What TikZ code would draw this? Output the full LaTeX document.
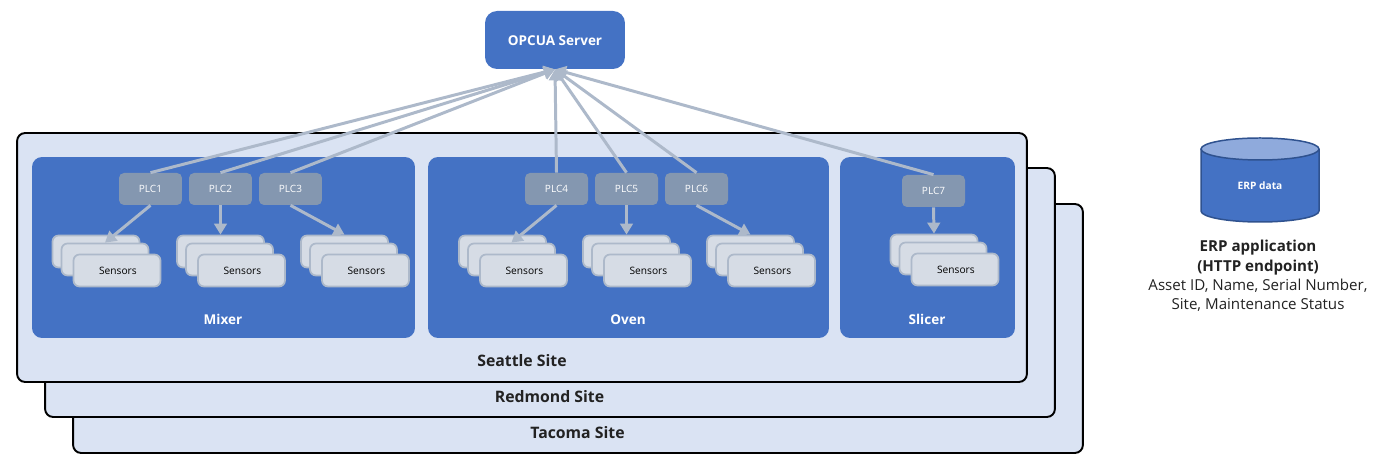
\documentclass[tikz,border=0pt]{standalone}
\usepackage{fontspec}
\setmainfont{Open Sans}
\usetikzlibrary{arrows.meta}
\definecolor{sitefill}{HTML}{DAE3F3}
\definecolor{bluefill}{HTML}{4472C4}
\definecolor{capfill}{HTML}{8FAADC}
\definecolor{edgecol}{HTML}{2F528F}
\definecolor{plcfill}{HTML}{8497B0}
\definecolor{greyfill}{HTML}{D6DCE5}
\definecolor{linecol}{HTML}{ADB9CA}
\definecolor{txtcol}{HTML}{222222}
\tikzset{
site/.style={draw=black,line width=1.1pt,fill=sitefill,rounded corners=0.16cm,minimum width=20.2cm,minimum height=4.98cm,inner sep=0},
sitelabel/.style={font=\fontsize{9}{11}\selectfont\bfseries,text=txtcol},
machine/.style={fill=bluefill,rounded corners=0.2cm,minimum height=3.62cm,inner sep=0},
machinelabel/.style={font=\fontsize{7.7}{9}\selectfont\bfseries,text=white,text height=5.6pt,text depth=0pt},
plc/.style={fill=plcfill,rounded corners=0.1cm,minimum width=1.26cm,minimum height=0.64cm,inner sep=0,text=white,font=\fontsize{5.7}{7}\selectfont},
sensorbox/.style={draw=linecol,line width=1pt,fill=greyfill,rounded corners=0.12cm,minimum width=1.74cm,minimum height=0.64cm,inner sep=0,font=\fontsize{5.8}{7}\selectfont,text height=5pt,text depth=0pt},
link/.style={draw=linecol,line width=1.7pt,-{Triangle[length=0.22cm,width=0.25cm]}}
}
\newcommand{\Sensors}[3]{
\node [sensorbox] (#1back) at (#2-21,#3-19) {};
\node [sensorbox] (#1mid) at (#2-12,#3-11) {};
\node [sensorbox] (#1front) at (#2,#3) {\hspace{1pt}Sensors};
}
\begin{document}
\begin{tikzpicture}[x=0.02cm,y=-0.02cm]
\useasboundingbox (0,0) rectangle (1375,475);
\node [site] (tacoma) at (578,328.5) {};
\node [site] (redmond) at (550,292.5) {};
\node [site] (seattle) at (522,257.5) {};
\node [sitelabel] (tacomalabel) at (577.5,433) {Tacoma Site};
\node [sitelabel] (redmondlabel) at (549.5,397) {Redmond Site};
\node [sitelabel] (seattlelabel) at (522,361) {Seattle Site};

\node [machine,minimum width=7.66cm] (mixer) at (223.5,247.5) {};
\node [machine,minimum width=8.02cm] (oven) at (628.5,247.5) {};
\node [machine,minimum width=3.5cm] (slicer) at (927.5,247.5) {};
\node [machinelabel] (mixerlabel) at (223,320) {Mixer};
\node [machinelabel] (ovenlabel) at (628,320) {Oven};
\node [machinelabel] (slicerlabel) at (927,320) {Slicer};

\node [fill=bluefill,rounded corners=0.24cm,minimum width=2.8cm,minimum height=1.16cm,inner sep=0,text=white,font=\fontsize{7.7}{10}\selectfont\bfseries,text height=6.8pt,text depth=0pt] (server) at (555,40) {OPCUA Server};

\foreach \n/\xp/\yp in {1/150.5/189,2/220.5/189,3/290.5/189,4/556.5/189,5/626.5/189,6/696.5/189,7/933.5/191}
  \node [plc] (plc\n) at (\xp,\yp) {PLC\n};

\Sensors{a}{117}{270.5}
\Sensors{b}{241.5}{270.5}
\Sensors{c}{365.5}{270.5}
\Sensors{d}{523.5}{270.5}
\Sensors{e}{647.5}{270.5}
\Sensors{f}{771.5}{270.5}
\Sensors{g}{955}{269.5}

\foreach \n in {1,...,7}
  \draw [link] (plc\n.north) -- (server.south);

\draw [link] (plc1.south) -- (amid.north);
\draw [link] (plc2.south) -- (bback.north);
\draw [link] (plc3.south) -- (cback.north);
\draw [link] (plc4.south) -- (dmid.north);
\draw [link] (plc5.south) -- (eback.north);
\draw [link] (plc6.south) -- (fback.north);
\draw [link] (plc7.south) -- (gback.north);

% ERP store
\draw [edgecol,line width=0.85pt,fill=bluefill] (1201,149) -- (1201,211) arc [start angle=180,end angle=0,x radius=59,y radius=11] -- (1319,149);
\draw [edgecol,line width=0.85pt,fill=capfill] (1260,149) ellipse [x radius=59,y radius=11];
\node [text=white,font=\fontsize{5.8}{7}\selectfont\bfseries] (erplabel) at (1260,186) {ERP data};
\node [align=center,text=txtcol,font=\fontsize{8.6}{11}\selectfont] (erpapp) at (1258,276) {\textbf{ERP application}\\\textbf{(HTTP endpoint)}\\Asset ID, Name, Serial Number,\\Site, Maintenance Status};
\end{tikzpicture}
\end{document}
